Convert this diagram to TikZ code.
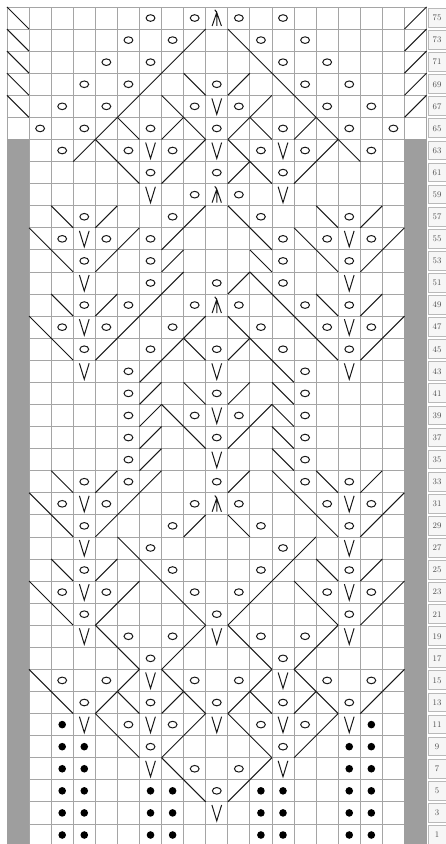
\documentclass[tikz,border=0pt]{standalone}
\usepackage{tikz}
\definecolor{barcol}{RGB}{158,158,158}
\definecolor{gridcol}{RGB}{165,165,165}

\begin{document}
\begin{tikzpicture}[x=22.08pt, y=11.04pt,
    gridline/.style={draw=gridcol, line width=0.8pt},
    stitch/.style={draw=black!90, line width=1pt},
    rowbox/.style={draw=gray!55, fill=gray!7, line width=0.5pt},
    rowlabel/.style={font=\fontsize{8.5}{9}\selectfont, text=black!70, inner sep=0pt},
    yo/.pic={\draw[stitch] (0,0) ellipse [x radius=0.2, y radius=0.3];},
    ktog/.pic={\draw[stitch] (-0.5,-1) -- (0.5,1);},
    ssk/.pic={\draw[stitch] (-0.5,1) -- (0.5,-1);},
    slip/.pic={\draw[stitch] (-0.22,0.72) -- (0,-0.72) -- (0.22,0.72);},
    cdd/.pic={\draw[stitch] (-0.21,-0.72) -- (0,0.5) -- (0.21,-0.72)
                (0,0.5) -- (0,-0.72) (0,0.5) -- (-0.09,0.75);},
    purl/.pic={\fill[black] (0,0) circle (3.8pt);}]
  \useasboundingbox (0.183,0.185) rectangle (20.337,76.634);

  % chart grid and side bars
  \draw[gridline, shift={(0.5,0)}] (0,0) grid[xstep=1, ystep=2] (19,76);
  \fill[barcol] (0.5,0) rectangle (1.5,64);
  \fill[barcol] (18.5,0) rectangle (19.5,64);

  % row numbers
  \foreach \r in {1,3,...,75} {
    \draw[rowbox] (19.567,\r-0.82) rectangle (20.6,\r+0.88);
    \node[rowlabel] (row\r) at (19.975,\r) {\r};
  }

  % yarn overs
  \foreach \r/\cs in {75/{7,9,11,13}, 73/{6,8,12,14}, 71/{5,7,13,15},
      69/{4,6,10,14,16}, 67/{3,5,9,11,15,17}, 65/{2,4,7,10,13,16,18},
      63/{3,6,8,12,14,17}, 61/{7,10,13}, 59/{9,11}, 57/{4,8,12,16},
      55/{3,5,7,13,15,17}, 53/{4,7,13,16}, 51/{7,10,13}, 49/{4,6,9,11,14,16},
      47/{3,5,8,12,15,17}, 45/{4,7,10,13,16}, 43/{6,14}, 41/{6,10,14},
      39/{6,9,11,14}, 37/{6,10,14}, 35/{6,14}, 33/{4,6,10,14,16},
      31/{3,5,9,11,15,17}, 29/{4,8,12,16}, 27/{7,13}, 25/{4,8,12,16},
      23/{3,5,9,11,15,17}, 21/{4,10,16}, 19/{6,8,12,14}, 17/{7,13},
      15/{3,5,9,11,15,17}, 13/{4,7,10,13,16}, 11/{6,8,12,14}, 9/{7,13},
      7/{9,11}, 5/{10}}
    \foreach \c in \cs \pic at (\c,\r) {yo};

  % left leaning lines
  \foreach \r/\cs in {75/{1}, 73/{1,11}, 71/{1,12}, 69/{1,9,13}, 67/{1,8,14},
      65/{6,9,12,15}, 63/{5,11,16}, 61/{6,12}, 57/{3,11,15}, 55/{2,12,14},
      53/{3,12,15}, 51/{12}, 49/{3,13,15}, 47/{2,11,14}, 45/{3,9,12,15},
      43/{13}, 41/{9,13}, 39/{8,13}, 37/{9,13}, 35/{13}, 33/{3,13,15},
      31/{2,14}, 29/{3,11,15}, 27/{6}, 25/{3,7,15}, 23/{2,8,14}, 21/{3,9,15},
      19/{5,11}, 17/{6,12}, 15/{2,8,14}, 13/{3,6,9,12,15}, 11/{5,11},
      9/{6,12}, 7/{8}, 5/{9}}
    \foreach \c in \cs \pic at (\c,\r) {ssk};

  % right leaning lines
  \foreach \r/\cs in {75/{19}, 73/{9,19}, 71/{8,19}, 69/{7,11,19}, 67/{6,12,19},
      65/{5,8,11,14}, 63/{4,9,15}, 61/{8,11,14}, 57/{5,9,17}, 55/{6,8,18},
      53/{5,8,17}, 51/{8,11}, 49/{5,7,17}, 47/{6,9,18}, 45/{5,8,11,17},
      43/{7}, 41/{7,11}, 39/{7,12}, 37/{7,11}, 35/{7}, 33/{5,7,11,17},
      31/{6,18}, 29/{5,9,17}, 27/{14}, 25/{5,13,17}, 23/{6,12,18},
      21/{5,11,17}, 19/{9,15}, 17/{8,14}, 15/{6,12,18}, 13/{5,8,11,14,17},
      11/{9,15}, 9/{8,14}, 7/{12}, 5/{11}}
    \foreach \c in \cs \pic at (\c,\r) {ktog};

  % slipped stitches
  \foreach \r/\cs in {67/{10}, 63/{7,10,13}, 59/{7,13}, 55/{4,16}, 51/{4,16},
      47/{4,16}, 43/{4,10,16}, 39/{10}, 35/{10}, 31/{4,16}, 27/{4,16},
      23/{4,16}, 19/{4,10,16}, 15/{7,13}, 11/{4,7,10,13,16}, 7/{7,13}, 3/{10}}
    \foreach \c in \cs \pic at (\c,\r) {slip};

  % double decreases
  \foreach \r in {75,59,49,31}
    \pic at (10,\r) {cdd};

  % purls
  \foreach \r/\cs in {11/{3,17}, 9/{3,4,16,17}, 7/{3,4,16,17},
      5/{3,4,7,8,12,13,16,17}, 3/{3,4,7,8,12,13,16,17}, 1/{3,4,7,8,12,13,16,17}}
    \foreach \c in \cs \pic at (\c,\r) {purl};
\end{tikzpicture}
\end{document}
